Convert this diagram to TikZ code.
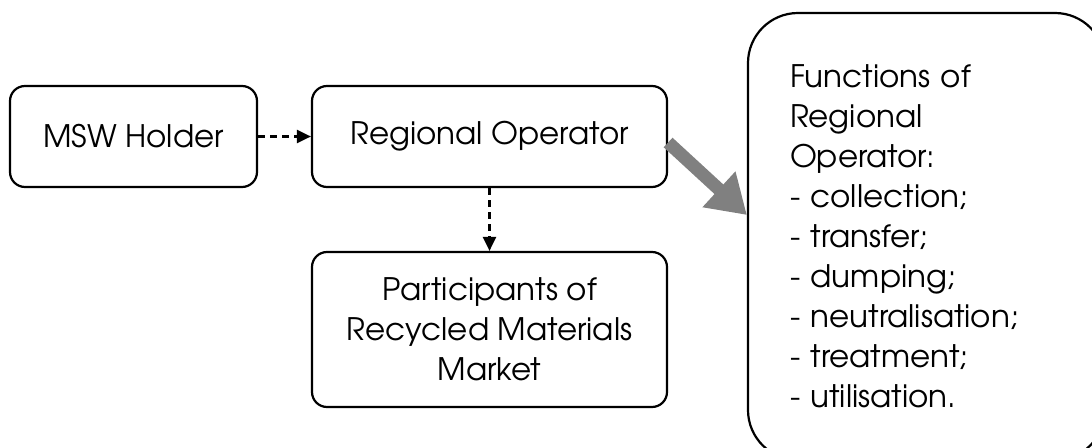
\documentclass[tikz,border=0pt]{standalone}
\usepackage{fontspec}
\setmainfont{TeX Gyre Adventor}
\usetikzlibrary{arrows.meta,calc}
\begin{document}
\begin{tikzpicture}[x=1pt,y=-1pt,
  box/.style={draw=black,line width=2.2pt,rounded corners=15pt,inner sep=0pt,align=center,
    font=\fontsize{31}{40}\selectfont},
  dasharrow/.style={line width=2.2pt,dash pattern=on 7pt off 5pt,-{Triangle[length=14pt,width=13pt]}},
  bigarrow/.style={draw={rgb,255:red,128;green,128;blue,128},line width=13pt,
    -{Triangle[length=38pt,width=46pt,fill={rgb,255:red,128;green,128;blue,128}]}}]
\useasboundingbox (0,0) rectangle (1092,447);
\node[box,minimum width=247pt,minimum height=101pt] (msw) at (133.5,136.5) {MSW Holder};
\node[box,minimum width=355pt,minimum height=101pt] (ro) at (489.5,136.5) {Regional Operator};
\node[box,minimum width=355pt,minimum height=155pt] (part) at (489.5,329.5)
  {Participants of\\Recycled Materials\\Market};
\node[box,rounded corners=50pt,minimum width=357pt,minimum height=447pt,text width=273pt,align=left] (func) at (926.5,236.5)
  {Functions of\\Regional\\Operator:\\- collection;\\- transfer;\\- dumping;\\- neutralisation;\\- treatment;\\- utilisation.};
\draw[dasharrow] (msw.east) -- (ro.west);
\draw[dasharrow] (ro.south) -- (part.north);
\draw[bigarrow] ($(ro.east)+(0,6)$) -- ($(func.west)+(0,-21.5)$);
\end{tikzpicture}
\end{document}
